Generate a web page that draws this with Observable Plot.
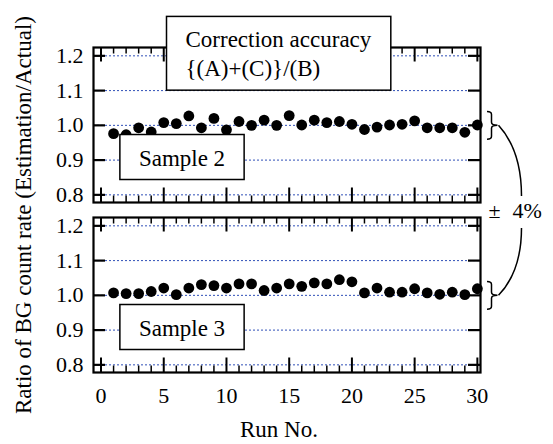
<!DOCTYPE html>
<html><head><meta charset="utf-8">
<script src="https://cdn.jsdelivr.net/npm/d3@7"></script>
<script src="https://cdn.jsdelivr.net/npm/@observablehq/plot@0.6"></script>
<style>
body{margin:0;background:#fff;}
svg, svg text, svg tspan { font-family: "Liberation Serif", "Times New Roman", serif !important; }
</style>
</head><body><div id="chart"></div>
<script>
// ---- data ----
const runs = [1,2,3,4,5,6,7,8,9,10,11,12,13,14,15,16,17,18,19,20,21,22,23,24,25,26,27,28,29,30];
const sample2 = [0.976,0.973,0.993,0.981,1.008,1.005,1.027,0.993,1.020,0.987,1.011,1.000,1.015,1.000,1.028,1.001,1.015,1.008,1.011,1.003,0.988,0.995,1.001,1.003,1.013,0.993,0.993,0.993,0.980,1.001];
const sample3 = [1.007,1.005,1.005,1.011,1.021,1.002,1.021,1.031,1.028,1.021,1.033,1.033,1.014,1.021,1.033,1.026,1.036,1.033,1.045,1.039,1.007,1.021,1.009,1.009,1.019,1.007,1.003,1.009,1.002,1.019];
const sampleNames = ["Sample 2", "Sample 3"];
const yTicks = [0.8, 0.9, 1.0, 1.1, 1.2];
const xMajor = [0, 5, 10, 15, 20, 25, 30];
const xMinor = [1,2,3,4,6,7,8,9,11,12,13,14,16,17,18,19,21,22,23,24,26,27,28,29];
const titleLines = ["Correction accuracy", "{(A)+(C)}/(B)"];
const tolerance = 0.04;
const toleranceSign = "±";
const toleranceText = "4%";
const xLabel = "Run No.";
const yLabel = "Ratio of BG count rate (Estimation/Actual)";

const points = [
  ...runs.map((r, i) => ({run: r, value: sample2[i], sample: sampleNames[0]})),
  ...runs.map((r, i) => ({run: r, value: sample3[i], sample: sampleNames[1]}))
];

// ---- layout ----
const W = 553, H = 444, mL = 93, mR = 73, mT = 47, mB = 71, pad = 0.088;
const frameW = W - mL - mR;
const step = (H - mT - mB) / (2 - pad);
const panelH = step * (1 - pad);

const chart = Plot.plot({
  width: W, height: H,
  marginLeft: mL, marginRight: mR, marginTop: mT, marginBottom: mB,
  style: {fontSize: "22px", background: "white", color: "black", overflow: "visible"},
  facet: {data: points, y: "sample"},
  fy: {domain: sampleNames, paddingInner: pad, paddingOuter: 0, axis: null, label: null},
  x: {domain: [-0.6, 30.25], ticks: xMajor, tickSize: 0, tickPadding: 15, label: null},
  y: {domain: [0.778, 1.224], ticks: yTicks, tickFormat: ".1f", tickSize: 0, tickPadding: 10, label: null},
  marks: [
    Plot.ruleY(yTicks, {stroke: "#3050b8", strokeWidth: 1, strokeDasharray: "2,2"}),
    Plot.ruleY(yTicks, {strokeWidth: 2.2, insetRight: frameW - 12}),
    Plot.ruleY(yTicks, {strokeWidth: 2.2, insetLeft: frameW - 12}),
    Plot.ruleX(xMajor, {strokeWidth: 2, insetBottom: panelH - 15}),
    Plot.ruleX(xMajor, {strokeWidth: 2, insetTop: panelH - 15}),
    Plot.ruleX(xMinor, {strokeWidth: 1.5, insetBottom: panelH - 7}),
    Plot.ruleX(xMinor, {strokeWidth: 1.5, insetTop: panelH - 7}),
    Plot.frame({strokeWidth: 2.2}),
    Plot.dot(points, {x: "run", y: "value", r: 5.4, fill: "black", stroke: "none"}),
    Plot.text(points, Plot.selectFirst({text: "sample", frameAnchor: "bottom-left", textAnchor: "middle", dx: 88.5, dy: -37, fontSize: 23})),
    Plot.text(points, {filter: (d) => d.sample === sampleNames[0] && d.run === runs[0], text: () => titleLines.join("\n"),
      frameAnchor: "top-left", textAnchor: "start", lineAnchor: "top", lineHeight: 1.25, dx: 92, dy: -20.5, fontSize: 23})
  ]
});
document.getElementById("chart").appendChild(chart);

// ---- boxes behind annotation texts ----
const svgNS = "http://www.w3.org/2000/svg";
const boxed = [...sampleNames, titleLines.join("")];
chart.querySelectorAll("text").forEach((t) => {
  const s = t.textContent;
  if (!boxed.includes(s)) return;
  const b = t.getBBox();
  const r = document.createElementNS(svgNS, "rect");
  r.setAttribute("x", b.x - 19);
  r.setAttribute("y", b.y - 11);
  r.setAttribute("width", b.width + 38);
  r.setAttribute("height", b.height + 20);
  r.setAttribute("fill", "white");
  r.setAttribute("stroke", "black");
  r.setAttribute("stroke-width", 1.5);
  if (t.getAttribute("transform")) r.setAttribute("transform", t.getAttribute("transform"));
  t.parentNode.insertBefore(r, t);
});

// ---- braces, tolerance annotation, axis titles ----
const Y = Plot.scale({y: chart.scale("y")});
const frames = [...chart.querySelectorAll('rect[aria-label="frame"], [aria-label="frame"] rect')];
const info = frames.map((rect) => {
  const m = rect.getCTM();
  const x = +rect.getAttribute("x") + m.e, y = +rect.getAttribute("y") + m.f;
  return {left: x, right: x + +rect.getAttribute("width"), top: y, bottom: y + +rect.getAttribute("height"), off: m.f};
}).sort((a, b) => a.top - b.top);
const svg = d3.select(chart);
const ann = svg.append("g").attr("fill", "none").attr("stroke", "black").attr("stroke-width", 1.5);
const tips = info.map((f) => {
  const yT = f.off + Y.apply(1 + tolerance), yB = f.off + Y.apply(1 - tolerance), yM = f.off + Y.apply(1);
  const x0 = f.right + 6.5, x1 = f.right + 11, x2 = f.right + 17;
  ann.append("path").attr("d",
    `M${x0},${yT} Q${x1},${yT} ${x1},${yT + 3} L${x1},${yM - 3} Q${x1},${yM} ${x2},${yM} Q${x1},${yM} ${x1},${yM + 3} L${x1},${yB - 3} Q${x1},${yB} ${x0},${yB}`);
  return {x: x2 + 1, y: yM};
});
const first = info[0], last = info[info.length - 1];
const gapMid = (first.bottom + last.top) / 2;
const xa = first.right + 41;
ann.append("path").attr("d", `M${tips[0].x},${tips[0].y} Q${xa},${tips[0].y + 25} ${xa},${gapMid - 14}`);
ann.append("path").attr("d", `M${xa},${gapMid + 18} Q${xa},${tips[tips.length - 1].y - 24} ${tips[tips.length - 1].x},${tips[tips.length - 1].y}`);
const tg = svg.append("g").attr("font-size", 22).attr("fill", "black");
tg.append("text").attr("x", first.right + 14).attr("y", gapMid + 8).attr("text-anchor", "middle").text(toleranceSign);
tg.append("text").attr("x", first.right + 32).attr("y", gapMid + 8).attr("text-anchor", "start").text(toleranceText);

svg.append("text").attr("transform", `translate(31,${(first.top + last.bottom) / 2 + 5}) rotate(-90)`)
  .attr("text-anchor", "middle").attr("font-size", 23).attr("fill", "black").text(yLabel);
svg.append("text").attr("x", 279).attr("y", 437)
  .attr("text-anchor", "middle").attr("font-size", 23).attr("fill", "black").text(xLabel);
</script>
</body></html>
